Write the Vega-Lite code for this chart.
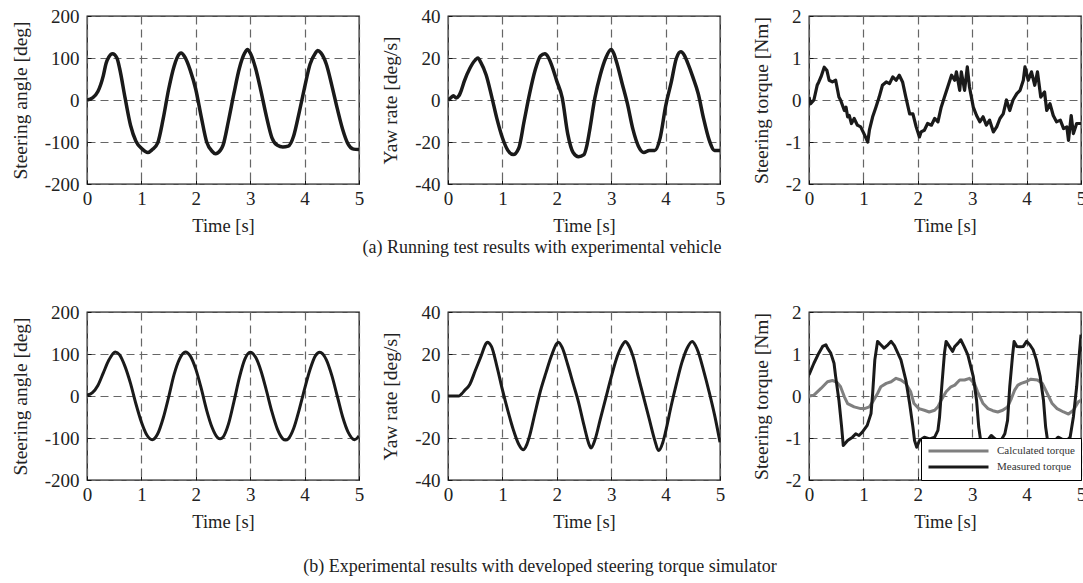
{
  "$schema": "https://vega.github.io/schema/vega-lite/v6.json",
  "background": "white",
  "padding": {"left": 9, "top": 6, "right": 0, "bottom": 5},
  "resolve": {"scale": {"color": "independent"}, "legend": {"color": "independent"}},
  "datasets": {
    "a1": [
      {"t":0,"v":0},{"t":0.1,"v":5},{"t":0.2,"v":20},{"t":0.3,"v":58},{"t":0.35,"v":87},{"t":0.4,"v":102},{"t":0.47,"v":110},{"t":0.55,"v":100},{"t":0.6,"v":75},{"t":0.7,"v":5},{"t":0.8,"v":-60},{"t":0.9,"v":-98},{"t":1.0,"v":-115},{"t":1.12,"v":-125},{"t":1.2,"v":-118},{"t":1.3,"v":-102},{"t":1.4,"v":-45},{"t":1.5,"v":25},{"t":1.6,"v":80},{"t":1.7,"v":110},{"t":1.73,"v":112},{"t":1.8,"v":102},{"t":1.9,"v":70},{"t":2.0,"v":25},{"t":2.1,"v":-40},{"t":2.2,"v":-100},{"t":2.3,"v":-122},{"t":2.36,"v":-128},{"t":2.45,"v":-120},{"t":2.5,"v":-108},{"t":2.6,"v":-50},{"t":2.7,"v":15},{"t":2.8,"v":75},{"t":2.9,"v":112},{"t":2.95,"v":120},{"t":3.0,"v":112},{"t":3.1,"v":75},{"t":3.2,"v":20},{"t":3.3,"v":-40},{"t":3.4,"v":-90},{"t":3.5,"v":-108},{"t":3.6,"v":-112},{"t":3.7,"v":-110},{"t":3.8,"v":-85},{"t":3.9,"v":-30},{"t":4.0,"v":30},{"t":4.1,"v":85},{"t":4.2,"v":112},{"t":4.24,"v":118},{"t":4.3,"v":112},{"t":4.4,"v":85},{"t":4.5,"v":35},{"t":4.6,"v":-20},{"t":4.7,"v":-70},{"t":4.8,"v":-105},{"t":4.9,"v":-117},{"t":5.0,"v":-118}
    ],
    "a2": [
      {"t":0,"v":0},{"t":0.05,"v":1},{"t":0.1,"v":2},{"t":0.15,"v":1},{"t":0.2,"v":2},{"t":0.25,"v":5},{"t":0.3,"v":9},{"t":0.4,"v":15},{"t":0.5,"v":19},{"t":0.55,"v":20},{"t":0.6,"v":18},{"t":0.7,"v":12},{"t":0.8,"v":2},{"t":0.9,"v":-9},{"t":1.0,"v":-18},{"t":1.1,"v":-24},{"t":1.2,"v":-26},{"t":1.3,"v":-23},{"t":1.4,"v":-10},{"t":1.5,"v":3},{"t":1.6,"v":14},{"t":1.7,"v":21},{"t":1.78,"v":22},{"t":1.85,"v":20},{"t":1.9,"v":17},{"t":2.0,"v":9},{"t":2.1,"v":1},{"t":2.2,"v":-16},{"t":2.3,"v":-25},{"t":2.4,"v":-27},{"t":2.5,"v":-26},{"t":2.55,"v":-22},{"t":2.6,"v":-15},{"t":2.7,"v":1},{"t":2.8,"v":12},{"t":2.9,"v":20},{"t":3.0,"v":24},{"t":3.05,"v":22},{"t":3.1,"v":18},{"t":3.2,"v":8},{"t":3.3,"v":-2},{"t":3.4,"v":-14},{"t":3.5,"v":-22},{"t":3.6,"v":-25},{"t":3.7,"v":-24},{"t":3.8,"v":-24},{"t":3.9,"v":-18},{"t":4.0,"v":-3},{"t":4.1,"v":8},{"t":4.2,"v":20},{"t":4.28,"v":23},{"t":4.35,"v":21},{"t":4.4,"v":18},{"t":4.5,"v":11},{"t":4.6,"v":3},{"t":4.7,"v":-9},{"t":4.8,"v":-19},{"t":4.9,"v":-24},{"t":5.0,"v":-24}
    ],
    "a3": [
      {"t":0,"v":0.07},{"t":0.03,"v":-0.09},{"t":0.09,"v":0},{"t":0.15,"v":0.35},{"t":0.18,"v":0.43},{"t":0.22,"v":0.55},{"t":0.28,"v":0.78},{"t":0.33,"v":0.7},{"t":0.37,"v":0.47},{"t":0.43,"v":0.43},{"t":0.49,"v":0.47},{"t":0.55,"v":0.07},{"t":0.58,"v":0},{"t":0.65,"v":-0.25},{"t":0.68,"v":-0.17},{"t":0.71,"v":-0.4},{"t":0.74,"v":-0.37},{"t":0.78,"v":-0.56},{"t":0.83,"v":-0.44},{"t":0.89,"v":-0.6},{"t":0.95,"v":-0.64},{"t":1.01,"v":-0.8},{"t":1.08,"v":-1.0},{"t":1.11,"v":-0.72},{"t":1.17,"v":-0.4},{"t":1.23,"v":-0.17},{"t":1.29,"v":0.07},{"t":1.35,"v":0.35},{"t":1.42,"v":0.43},{"t":1.48,"v":0.39},{"t":1.54,"v":0.55},{"t":1.6,"v":0.47},{"t":1.66,"v":0.59},{"t":1.72,"v":0.43},{"t":1.78,"v":0.07},{"t":1.85,"v":-0.33},{"t":1.91,"v":-0.33},{"t":1.97,"v":-0.64},{"t":2.03,"v":-0.88},{"t":2.06,"v":-0.76},{"t":2.12,"v":-0.72},{"t":2.18,"v":-0.56},{"t":2.25,"v":-0.6},{"t":2.31,"v":-0.44},{"t":2.37,"v":-0.52},{"t":2.43,"v":-0.17},{"t":2.49,"v":0.07},{"t":2.55,"v":0.31},{"t":2.62,"v":0.59},{"t":2.68,"v":0.47},{"t":2.71,"v":0.67},{"t":2.77,"v":0.23},{"t":2.8,"v":0.67},{"t":2.86,"v":0.23},{"t":2.91,"v":0.79},{"t":2.95,"v":0.31},{"t":3.02,"v":-0.17},{"t":3.08,"v":-0.37},{"t":3.14,"v":-0.52},{"t":3.2,"v":-0.4},{"t":3.26,"v":-0.6},{"t":3.32,"v":-0.48},{"t":3.39,"v":-0.76},{"t":3.45,"v":-0.64},{"t":3.51,"v":-0.44},{"t":3.57,"v":-0.33},{"t":3.63,"v":0},{"t":3.69,"v":-0.25},{"t":3.75,"v":0},{"t":3.82,"v":0.15},{"t":3.88,"v":0.23},{"t":3.94,"v":0.47},{"t":3.97,"v":0.79},{"t":4.03,"v":0.47},{"t":4.09,"v":0.67},{"t":4.15,"v":0.35},{"t":4.2,"v":0.67},{"t":4.26,"v":0.07},{"t":4.33,"v":0.19},{"t":4.37,"v":-0.25},{"t":4.43,"v":-0.09},{"t":4.49,"v":-0.37},{"t":4.55,"v":-0.52},{"t":4.62,"v":-0.48},{"t":4.68,"v":-0.68},{"t":4.74,"v":-0.64},{"t":4.77,"v":-0.96},{"t":4.82,"v":-0.37},{"t":4.86,"v":-0.8},{"t":4.92,"v":-0.56},{"t":5.0,"v":-0.56}
    ],
    "b1": [
      {"t":0,"v":2},{"t":0.1,"v":8},{"t":0.2,"v":25},{"t":0.3,"v":55},{"t":0.4,"v":85},{"t":0.52,"v":105},{"t":0.6,"v":98},{"t":0.7,"v":70},{"t":0.8,"v":30},{"t":0.9,"v":-19},{"t":1.0,"v":-62},{"t":1.1,"v":-93},{"t":1.2,"v":-104},{"t":1.3,"v":-90},{"t":1.4,"v":-53},{"t":1.5,"v":-3},{"t":1.6,"v":51},{"t":1.7,"v":88},{"t":1.81,"v":105},{"t":1.9,"v":95},{"t":2.0,"v":64},{"t":2.1,"v":18},{"t":2.2,"v":-34},{"t":2.3,"v":-75},{"t":2.4,"v":-99},{"t":2.45,"v":-102},{"t":2.5,"v":-98},{"t":2.6,"v":-67},{"t":2.7,"v":-14},{"t":2.8,"v":43},{"t":2.9,"v":87},{"t":3.0,"v":104},{"t":3.1,"v":92},{"t":3.2,"v":59},{"t":3.3,"v":12},{"t":3.4,"v":-38},{"t":3.5,"v":-79},{"t":3.6,"v":-102},{"t":3.65,"v":-105},{"t":3.7,"v":-102},{"t":3.8,"v":-77},{"t":3.9,"v":-33},{"t":4.0,"v":17},{"t":4.1,"v":63},{"t":4.2,"v":96},{"t":4.28,"v":104},{"t":4.4,"v":86},{"t":4.5,"v":49},{"t":4.6,"v":0},{"t":4.7,"v":-50},{"t":4.8,"v":-86},{"t":4.92,"v":-104},{"t":5.0,"v":-95}
    ],
    "b2": [
      {"t":0,"v":0},{"t":0.1,"v":0},{"t":0.2,"v":0},{"t":0.25,"v":1},{"t":0.3,"v":2.5},{"t":0.4,"v":5.5},{"t":0.5,"v":12},{"t":0.6,"v":18.5},{"t":0.7,"v":25},{"t":0.72,"v":25.6},{"t":0.8,"v":23.5},{"t":0.9,"v":14},{"t":1.0,"v":3},{"t":1.1,"v":-7},{"t":1.2,"v":-16},{"t":1.3,"v":-23},{"t":1.38,"v":-25.6},{"t":1.45,"v":-23},{"t":1.5,"v":-19},{"t":1.6,"v":-8},{"t":1.7,"v":2.5},{"t":1.8,"v":11},{"t":1.9,"v":19},{"t":2.0,"v":25},{"t":2.03,"v":25.6},{"t":2.1,"v":23},{"t":2.2,"v":15},{"t":2.3,"v":6},{"t":2.4,"v":-3},{"t":2.5,"v":-14},{"t":2.6,"v":-23.5},{"t":2.63,"v":-24.8},{"t":2.7,"v":-21},{"t":2.8,"v":-11},{"t":2.9,"v":-1},{"t":3.0,"v":9},{"t":3.1,"v":18},{"t":3.2,"v":24},{"t":3.26,"v":26},{"t":3.3,"v":25},{"t":3.4,"v":19},{"t":3.5,"v":9},{"t":3.6,"v":-1},{"t":3.7,"v":-11},{"t":3.8,"v":-21},{"t":3.87,"v":-26},{"t":3.95,"v":-22},{"t":4.0,"v":-17},{"t":4.1,"v":-5},{"t":4.2,"v":6},{"t":4.3,"v":16},{"t":4.4,"v":23},{"t":4.49,"v":26},{"t":4.55,"v":24},{"t":4.6,"v":21},{"t":4.7,"v":12},{"t":4.8,"v":2},{"t":4.9,"v":-9},{"t":5.0,"v":-22}
    ],
    "b3": [
      {"t":0,"v":0,"s":"Calculated torque"},{"t":0.09,"v":0.02,"s":"Calculated torque"},{"t":0.22,"v":0.18,"s":"Calculated torque"},{"t":0.34,"v":0.34,"s":"Calculated torque"},{"t":0.43,"v":0.37,"s":"Calculated torque"},{"t":0.52,"v":0.32,"s":"Calculated torque"},{"t":0.58,"v":0.22,"s":"Calculated torque"},{"t":0.65,"v":-0.02,"s":"Calculated torque"},{"t":0.71,"v":-0.18,"s":"Calculated torque"},{"t":0.83,"v":-0.26,"s":"Calculated torque"},{"t":0.95,"v":-0.3,"s":"Calculated torque"},{"t":1.02,"v":-0.3,"s":"Calculated torque"},{"t":1.11,"v":-0.26,"s":"Calculated torque"},{"t":1.17,"v":-0.14,"s":"Calculated torque"},{"t":1.26,"v":0.06,"s":"Calculated torque"},{"t":1.32,"v":0.22,"s":"Calculated torque"},{"t":1.42,"v":0.3,"s":"Calculated torque"},{"t":1.51,"v":0.34,"s":"Calculated torque"},{"t":1.6,"v":0.42,"s":"Calculated torque"},{"t":1.69,"v":0.38,"s":"Calculated torque"},{"t":1.78,"v":0.3,"s":"Calculated torque"},{"t":1.87,"v":0.1,"s":"Calculated torque"},{"t":1.93,"v":-0.18,"s":"Calculated torque"},{"t":2.02,"v":-0.3,"s":"Calculated torque"},{"t":2.12,"v":-0.34,"s":"Calculated torque"},{"t":2.21,"v":-0.38,"s":"Calculated torque"},{"t":2.31,"v":-0.34,"s":"Calculated torque"},{"t":2.37,"v":-0.26,"s":"Calculated torque"},{"t":2.43,"v":-0.1,"s":"Calculated torque"},{"t":2.52,"v":0.1,"s":"Calculated torque"},{"t":2.61,"v":0.22,"s":"Calculated torque"},{"t":2.68,"v":0.26,"s":"Calculated torque"},{"t":2.77,"v":0.38,"s":"Calculated torque"},{"t":2.86,"v":0.38,"s":"Calculated torque"},{"t":2.95,"v":0.42,"s":"Calculated torque"},{"t":3.04,"v":0.3,"s":"Calculated torque"},{"t":3.1,"v":0.1,"s":"Calculated torque"},{"t":3.2,"v":-0.18,"s":"Calculated torque"},{"t":3.29,"v":-0.3,"s":"Calculated torque"},{"t":3.38,"v":-0.35,"s":"Calculated torque"},{"t":3.47,"v":-0.38,"s":"Calculated torque"},{"t":3.56,"v":-0.34,"s":"Calculated torque"},{"t":3.65,"v":-0.26,"s":"Calculated torque"},{"t":3.72,"v":-0.06,"s":"Calculated torque"},{"t":3.78,"v":0.14,"s":"Calculated torque"},{"t":3.84,"v":0.26,"s":"Calculated torque"},{"t":3.9,"v":0.3,"s":"Calculated torque"},{"t":3.99,"v":0.34,"s":"Calculated torque"},{"t":4.08,"v":0.4,"s":"Calculated torque"},{"t":4.2,"v":0.38,"s":"Calculated torque"},{"t":4.29,"v":0.3,"s":"Calculated torque"},{"t":4.38,"v":0.06,"s":"Calculated torque"},{"t":4.47,"v":-0.18,"s":"Calculated torque"},{"t":4.56,"v":-0.3,"s":"Calculated torque"},{"t":4.68,"v":-0.38,"s":"Calculated torque"},{"t":4.77,"v":-0.43,"s":"Calculated torque"},{"t":4.86,"v":-0.34,"s":"Calculated torque"},{"t":4.95,"v":-0.14,"s":"Calculated torque"},{"t":5.0,"v":-0.1,"s":"Calculated torque"},
      {"t":0,"v":0.5,"s":"Measured torque"},{"t":0.09,"v":0.78,"s":"Measured torque"},{"t":0.18,"v":1.02,"s":"Measured torque"},{"t":0.25,"v":1.18,"s":"Measured torque"},{"t":0.31,"v":1.22,"s":"Measured torque"},{"t":0.34,"v":1.14,"s":"Measured torque"},{"t":0.4,"v":1.02,"s":"Measured torque"},{"t":0.46,"v":0.78,"s":"Measured torque"},{"t":0.49,"v":0.46,"s":"Measured torque"},{"t":0.55,"v":-0.1,"s":"Measured torque"},{"t":0.6,"v":-0.74,"s":"Measured torque"},{"t":0.63,"v":-1.18,"s":"Measured torque"},{"t":0.71,"v":-1.06,"s":"Measured torque"},{"t":0.8,"v":-0.98,"s":"Measured torque"},{"t":0.86,"v":-0.9,"s":"Measured torque"},{"t":0.92,"v":-0.94,"s":"Measured torque"},{"t":0.98,"v":-0.86,"s":"Measured torque"},{"t":1.07,"v":-0.7,"s":"Measured torque"},{"t":1.14,"v":-0.42,"s":"Measured torque"},{"t":1.17,"v":0.06,"s":"Measured torque"},{"t":1.21,"v":0.86,"s":"Measured torque"},{"t":1.26,"v":1.3,"s":"Measured torque"},{"t":1.32,"v":1.22,"s":"Measured torque"},{"t":1.38,"v":1.14,"s":"Measured torque"},{"t":1.45,"v":1.22,"s":"Measured torque"},{"t":1.51,"v":1.3,"s":"Measured torque"},{"t":1.57,"v":1.2,"s":"Measured torque"},{"t":1.69,"v":0.86,"s":"Measured torque"},{"t":1.78,"v":0.38,"s":"Measured torque"},{"t":1.85,"v":-0.18,"s":"Measured torque"},{"t":1.91,"v":-0.74,"s":"Measured torque"},{"t":1.94,"v":-1.06,"s":"Measured torque"},{"t":1.98,"v":-1.22,"s":"Measured torque"},{"t":2.03,"v":-1.06,"s":"Measured torque"},{"t":2.12,"v":-0.98,"s":"Measured torque"},{"t":2.22,"v":-1.02,"s":"Measured torque"},{"t":2.31,"v":-0.98,"s":"Measured torque"},{"t":2.37,"v":-0.82,"s":"Measured torque"},{"t":2.4,"v":-0.5,"s":"Measured torque"},{"t":2.44,"v":0.22,"s":"Measured torque"},{"t":2.49,"v":1.02,"s":"Measured torque"},{"t":2.52,"v":1.3,"s":"Measured torque"},{"t":2.58,"v":1.18,"s":"Measured torque"},{"t":2.64,"v":1.06,"s":"Measured torque"},{"t":2.68,"v":1.18,"s":"Measured torque"},{"t":2.74,"v":1.26,"s":"Measured torque"},{"t":2.79,"v":1.34,"s":"Measured torque"},{"t":2.85,"v":1.18,"s":"Measured torque"},{"t":2.92,"v":0.98,"s":"Measured torque"},{"t":3.02,"v":0.46,"s":"Measured torque"},{"t":3.08,"v":-0.1,"s":"Measured torque"},{"t":3.12,"v":-0.74,"s":"Measured torque"},{"t":3.16,"v":-1.1,"s":"Measured torque"},{"t":3.2,"v":-1.22,"s":"Measured torque"},{"t":3.26,"v":-1.1,"s":"Measured torque"},{"t":3.35,"v":-0.94,"s":"Measured torque"},{"t":3.42,"v":-1.02,"s":"Measured torque"},{"t":3.51,"v":-1.1,"s":"Measured torque"},{"t":3.6,"v":-0.9,"s":"Measured torque"},{"t":3.65,"v":-0.58,"s":"Measured torque"},{"t":3.69,"v":0.22,"s":"Measured torque"},{"t":3.74,"v":0.94,"s":"Measured torque"},{"t":3.77,"v":1.3,"s":"Measured torque"},{"t":3.82,"v":1.18,"s":"Measured torque"},{"t":3.88,"v":1.17,"s":"Measured torque"},{"t":3.94,"v":1.18,"s":"Measured torque"},{"t":4.0,"v":1.3,"s":"Measured torque"},{"t":4.06,"v":1.22,"s":"Measured torque"},{"t":4.12,"v":1.1,"s":"Measured torque"},{"t":4.18,"v":0.86,"s":"Measured torque"},{"t":4.25,"v":0.46,"s":"Measured torque"},{"t":4.31,"v":-0.1,"s":"Measured torque"},{"t":4.35,"v":-0.74,"s":"Measured torque"},{"t":4.39,"v":-1.1,"s":"Measured torque"},{"t":4.43,"v":-1.14,"s":"Measured torque"},{"t":4.49,"v":-1.1,"s":"Measured torque"},{"t":4.58,"v":-0.98,"s":"Measured torque"},{"t":4.64,"v":-1.02,"s":"Measured torque"},{"t":4.74,"v":-1.06,"s":"Measured torque"},{"t":4.8,"v":-0.98,"s":"Measured torque"},{"t":4.86,"v":-0.5,"s":"Measured torque"},{"t":4.92,"v":0.22,"s":"Measured torque"},{"t":4.96,"v":0.86,"s":"Measured torque"},{"t":5.0,"v":1.46,"s":"Measured torque"}
    ]
  },
  "columns": 3,
  "spacing": {"row": 128, "column": 89},
  "bounds": "flush",
  "concat": [
    {
      "width": 272, "height": 168,
      "data": {"name": "a1"},
      "mark": {"type": "line", "color": "#1a1a1a", "strokeWidth": 3.5, "interpolate": "monotone", "strokeJoin": "round", "clip": true},
      "encoding": {
        "x": {"field": "t", "type": "quantitative", "scale": {"domain": [0, 5], "nice": false}, "axis": {"title": "Time [s]", "values": [0, 1, 2, 3, 4, 5]}},
        "y": {"field": "v", "type": "quantitative", "scale": {"domain": [-200, 200], "nice": false}, "axis": {"title": "Steering angle [deg]", "values": [-200, -100, 0, 100, 200]}}
      }
    },
    {
      "width": 272, "height": 168,
      "title": {"text": "(a) Running test results with experimental vehicle", "orient": "bottom", "dx": -42, "offset": 4},
      "data": {"name": "a2"},
      "mark": {"type": "line", "color": "#1a1a1a", "strokeWidth": 3.5, "interpolate": "monotone", "strokeJoin": "round", "clip": true},
      "encoding": {
        "x": {"field": "t", "type": "quantitative", "scale": {"domain": [0, 5], "nice": false}, "axis": {"title": "Time [s]", "values": [0, 1, 2, 3, 4, 5]}},
        "y": {"field": "v", "type": "quantitative", "scale": {"domain": [-40, 40], "nice": false}, "axis": {"title": "Yaw rate [deg/s]", "values": [-40, -20, 0, 20, 40]}}
      }
    },
    {
      "width": 272, "height": 168,
      "data": {"name": "a3"},
      "mark": {"type": "line", "color": "#1a1a1a", "strokeWidth": 3.2, "strokeJoin": "round", "clip": true},
      "encoding": {
        "x": {"field": "t", "type": "quantitative", "scale": {"domain": [0, 5], "nice": false}, "axis": {"title": "Time [s]", "values": [0, 1, 2, 3, 4, 5]}},
        "y": {"field": "v", "type": "quantitative", "scale": {"domain": [-2, 2], "nice": false}, "axis": {"title": "Steering torque [Nm]", "values": [-2, -1, 0, 1, 2]}}
      }
    },
    {
      "width": 272, "height": 168,
      "data": {"name": "b1"},
      "mark": {"type": "line", "color": "#1a1a1a", "strokeWidth": 3, "interpolate": "monotone", "strokeJoin": "round", "clip": true},
      "encoding": {
        "x": {"field": "t", "type": "quantitative", "scale": {"domain": [0, 5], "nice": false}, "axis": {"title": "Time [s]", "values": [0, 1, 2, 3, 4, 5]}},
        "y": {"field": "v", "type": "quantitative", "scale": {"domain": [-200, 200], "nice": false}, "axis": {"title": "Steering angle [deg]", "values": [-200, -100, 0, 100, 200]}}
      }
    },
    {
      "width": 272, "height": 168,
      "title": {"text": "(b) Experimental results with developed steering torque simulator", "orient": "bottom", "dx": -44, "offset": 27},
      "data": {"name": "b2"},
      "mark": {"type": "line", "color": "#1a1a1a", "strokeWidth": 3, "interpolate": "monotone", "strokeJoin": "round", "clip": true},
      "encoding": {
        "x": {"field": "t", "type": "quantitative", "scale": {"domain": [0, 5], "nice": false}, "axis": {"title": "Time [s]", "values": [0, 1, 2, 3, 4, 5]}},
        "y": {"field": "v", "type": "quantitative", "scale": {"domain": [-40, 40], "nice": false}, "axis": {"title": "Yaw rate [deg/s]", "values": [-40, -20, 0, 20, 40]}}
      }
    },
    {
      "width": 272, "height": 168,
      "data": {"name": "b3"},
      "mark": {"type": "line", "strokeWidth": 3, "strokeJoin": "round", "clip": true},
      "encoding": {
        "x": {"field": "t", "type": "quantitative", "scale": {"domain": [0, 5], "nice": false}, "axis": {"title": "Time [s]", "values": [0, 1, 2, 3, 4, 5]}},
        "y": {"field": "v", "type": "quantitative", "scale": {"domain": [-2, 2], "nice": false}, "axis": {"title": "Steering torque [Nm]", "values": [-2, -1, 0, 1, 2]}},
        "color": {
          "field": "s", "type": "nominal",
          "scale": {"domain": ["Calculated torque", "Measured torque"], "range": ["#7f7f7f", "#1a1a1a"]},
          "legend": {
            "title": null, "orient": "bottom-right", "offset": 0,
            "fillColor": "white", "strokeColor": "#000", "padding": 6,
            "symbolType": "stroke", "symbolSize": 3600, "symbolStrokeWidth": 3,
            "labelFontSize": 11, "labelColor": "#333", "labelOffset": 7,
            "clipHeight": 14, "rowPadding": 2
          }
        }
      }
    }
  ],
  "config": {
    "font": "Liberation Serif",
    "view": {"stroke": "#111", "strokeWidth": 1.3},
    "axis": {
      "grid": true, "gridColor": "#666", "gridDash": [8, 5], "gridWidth": 1.2,
      "domain": false, "ticks": true, "tickSize": -4, "tickColor": "#111", "tickWidth": 1,
      "labelFont": "Liberation Serif", "titleFont": "Liberation Serif",
      "labelFontSize": 19, "titleFontSize": 18.5, "titleFontWeight": "normal",
      "labelColor": "#222", "titleColor": "#222",
      "labelExpr": "'' + datum.value",
      "labelFlush": false, "labelOverlap": false
    },
    "axisX": {"labelPadding": 9, "titlePadding": 8},
    "axisY": {"labelPadding": 12, "titlePadding": 14, "titleFontSize": 19.5},
    "title": {"font": "Liberation Serif", "fontSize": 18, "fontWeight": "normal", "color": "#222"}
  }
}
